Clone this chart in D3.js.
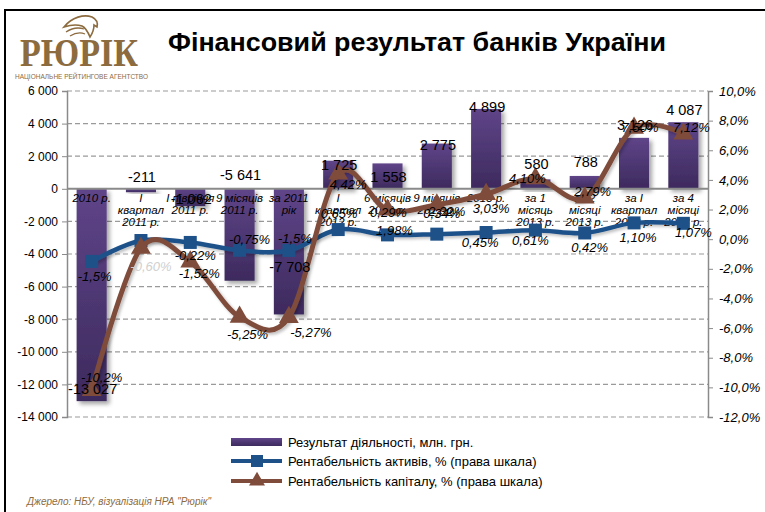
<!DOCTYPE html>
<html>
<head>
<meta charset="utf-8">
<script src="https://cdn.jsdelivr.net/npm/d3@7"></script>
<style>
  body { margin: 0; background: #fff; }
  svg { display: block; font-family: "Liberation Sans", Arial, sans-serif; }
</style>
</head>
<body>
<div id="mydraw"></div>
<script>

// ---------------
// data

var categories = [
    "2010 р.", "I\nквартал\n2011 р.", "I півріччя\n2011 р.", "9 місяців\n2011 р.",
    "за 2011\nрік", "I\nквартал\n2012 р.", "6 місяців\n2012 р.", "9 місяців\n2012 р.",
    "2013 р.", "за 1\nмісяць\n2013 р.", "за 2\nмісяці\n2013 р.", "за I\nквартал\n2013 р.",
    "за 4\nмісяці\n2013 р."
];

var result = [-13027, -211, -1062, -5641, -7708, 1725, 1558, 2775, 4899, 580, 788, 3126, 4087];

var roa = [-1.5, -0.09, -0.22, -0.75, -0.76, 0.65, 0.29, 0.34, 0.45, 0.61, 0.42, 1.10, 1.07];
var roaText = ["-1,5%", "", "-0,22%", "-0,75%", "-1,5%", "0,65%", "0,29%", "0,34%",
               "0,45%", "0,61%", "0,42%", "1,10%", "1,07%"];

var roe = [-10.2, -0.60, -1.52, -5.25, -5.27, 4.42, 1.98, 2.32, 3.03, 4.10, 2.79, 7.50, 7.12];
var roeText = ["-10,2%", "-0,60%", "-1,52%", "-5,25%", "-5,27%", "4,42%", "1,98%", "2,32%",
               "3,03%", "4,10%", "2,79%", "7,50%", "7,12%"];

var leftTicks  = [6000, 4000, 2000, 0, -2000, -4000, -6000, -8000, -10000, -12000, -14000];
var rightTicks = [10, 8, 6, 4, 2, 0, -2, -4, -6, -8, -10, -12];

var legendNames = [
    "Результат діяльності, млн. грн.",
    "Рентабельність активів, % (права шкала)",
    "Рентабельність капіталу, % (права шкала)"
];

// ---------------
// label nudges (layout only, px)

var barLabelDy = [-12, -15, -7, -106, -48, 4, 14, 1, -2, -15, -14, -13, -12];
var roaLabelDx = [3, 0, 5, 10, 6, 1, 1, 5, -6, -5, 5, 4, 10];
var roaLabelDy = [15, 0, 13, -11, -12, -16, -22, -21, 10, 10, 14, 15, 9];
var roeLabelDx = [10, 10, 9, 8, 22, 10, 7, 10, 5, -8, 8, 6, 8];
var roeLabelDy = [-13, 18, 12, 17, 15, 11, 21, 7, 14, 0, -6, -1, -6];


var W = 765, H = 512;
var pLeft = 67, pRight = 708, pTop = 91, pBottom = 417;

var blue  = "#1f5189",
    brown = "#7f4b3b",
    gold  = "#8c6b3f";

var loc = d3.formatLocale({ decimal: ",", thousands: "\u00a0", grouping: [3], currency: ["", ""], minus: "-" });
var fmtL = loc.format(",.0f"),
    fmtR = loc.format(".1f");

var svg = d3.select("div#mydraw").append("svg")
    .attr("width", W)
    .attr("height", H);

var defs = svg.append("defs");

var grad = defs.append("linearGradient")
    .attr("id", "barGrad")
    .attr("x1", 0).attr("y1", 0).attr("x2", 0).attr("y2", 1);
grad.append("stop").attr("offset", "0%").attr("stop-color", "#5f4589");
grad.append("stop").attr("offset", "100%").attr("stop-color", "#3d2a5d");

var shadow = defs.append("filter").attr("id", "shadow")
    .attr("x", "-20%").attr("y", "-20%").attr("width", "150%").attr("height", "150%");
shadow.append("feDropShadow")
    .attr("dx", 3).attr("dy", 3).attr("stdDeviation", 2)
    .attr("flood-color", "#000").attr("flood-opacity", 0.35);

var lshadow = defs.append("filter").attr("id", "lshadow")
    .attr("x", "-10%").attr("y", "-10%").attr("width", "130%").attr("height", "130%");
lshadow.append("feDropShadow")
    .attr("dx", 2).attr("dy", 2).attr("stdDeviation", 1.5)
    .attr("flood-color", "#000").attr("flood-opacity", 0.25);

// ---------------
// frame, logo, title

svg.append("rect")
    .attr("x", 5).attr("y", 10)
    .attr("width", 820).attr("height", 600)
    .attr("fill", "none")
    .attr("stroke", "#000")
    .attr("stroke-width", 2);

var logo = svg.append("g");
logo.append("text")
    .attr("x", 79).attr("y", 66)
    .attr("text-anchor", "middle")
    .attr("font-family", "'Liberation Serif', 'DejaVu Serif', serif")
    .attr("font-size", 40)
    .attr("font-weight", "bold")
    .attr("textLength", 118)
    .attr("lengthAdjust", "spacingAndGlyphs")
    .attr("fill", gold)
    .text("РЮРІК");
logo.append("text")
    .attr("x", 15).attr("y", 79)
    .attr("font-size", 7.5)
    .attr("textLength", 133)
    .attr("lengthAdjust", "spacingAndGlyphs")
    .attr("fill", gold)
    .text("НАЦІОНАЛЬНЕ РЕЙТИНГОВЕ АГЕНТСТВО");
// bird head
logo.append("path")
    .attr("d", "M64,27 C72,17 84,14 92,17 C96,19 98,23 97,27 L94,25 C94,30 92,34 90,37 " +
               "C88,32 86,28 82,26 C76,24 70,25 64,27 Z")
    .attr("fill", "none").attr("stroke", gold).attr("stroke-width", 1.6);
logo.append("path")
    .attr("d", "M66,32 C72,28 78,27 84,29 M70,36 C75,33 80,32 85,34")
    .attr("fill", "none").attr("stroke", gold).attr("stroke-width", 1.3);

svg.append("text")
    .attr("x", 168).attr("y", 51)
    .attr("font-size", 25)
    .attr("font-weight", "bold")
    .attr("textLength", 498)
    .attr("lengthAdjust", "spacingAndGlyphs")
    .attr("fill", "#000")
    .text("Фінансовий результат банків України");

// ---------------
// scales

var x = d3.scaleBand()
    .domain(d3.range(categories.length))
    .range([pLeft, pRight])
    .paddingInner(0.39)
    .paddingOuter(0.195);

var yL = d3.scaleLinear().domain([-14000, 6000]).range([pBottom, pTop]);
var yR = d3.scaleLinear().domain([-12, 10]).range([pBottom, pTop]);

var cx = function(i) { return x(i) + x.bandwidth() / 2; };

// ---------------
// grid

svg.append("g").selectAll("line")
    .data(leftTicks.filter(function(d) { return d !== 0; }))
    .enter().append("line")
    .attr("x1", pLeft).attr("x2", pRight)
    .attr("y1", function(d) { return yL(d); })
    .attr("y2", function(d) { return yL(d); })
    .attr("stroke", "#9a9a9a")
    .attr("stroke-width", 1.2)
    .attr("stroke-dasharray", "5,3");

// ---------------
// axes

var axL = svg.append("g")
    .attr("transform", "translate(" + pLeft + ",0)")
    .call(d3.axisLeft(yL).tickValues(leftTicks).tickSize(5).tickPadding(4).tickFormat(fmtL));
axL.select(".domain").attr("stroke", "#8a8a8a").attr("stroke-width", 1.5);
axL.selectAll(".tick line").attr("stroke", "#8a8a8a");
axL.selectAll("text").attr("font-size", 12).attr("fill", "#000")
    .attr("font-family", "'Liberation Sans', Arial, sans-serif");

var axR = svg.append("g")
    .attr("transform", "translate(" + pRight + ",0)")
    .call(d3.axisRight(yR).tickValues(rightTicks).tickSize(5).tickPadding(6)
        .tickFormat(function(d) { return fmtR(d) + "%"; }));
axR.select(".domain").attr("stroke", "#8a8a8a").attr("stroke-width", 1.5);
axR.selectAll(".tick line").attr("stroke", "#8a8a8a");
axR.selectAll("text").attr("font-size", 13).attr("font-style", "italic").attr("fill", "#000")
    .attr("font-family", "'Liberation Sans', Arial, sans-serif");

// ---------------
// bars

svg.append("g").selectAll("rect")
    .data(result)
    .enter().append("rect")
    .attr("x", function(d, i) { return x(i); })
    .attr("width", x.bandwidth())
    .attr("y", function(d) { return Math.min(yL(d), yL(0)); })
    .attr("height", function(d) { return Math.abs(yL(d) - yL(0)); })
    .attr("fill", "url(#barGrad)")
    .attr("filter", "url(#shadow)");

// zero line
svg.append("line")
    .attr("x1", pLeft).attr("x2", pRight)
    .attr("y1", yL(0)).attr("y2", yL(0))
    .attr("stroke", "#8a8a8a")
    .attr("stroke-width", 2);

// ---------------
// category labels

var cat = svg.append("g").selectAll("text")
    .data(categories)
    .enter().append("text")
    .attr("x", function(d, i) { return cx(i); })
    .attr("y", yL(0) + 13)
    .attr("text-anchor", "middle")
    .attr("font-size", 11.5)
    .attr("font-style", "italic")
    .attr("fill", "#000");

cat.each(function(d) {
    var t = d3.select(this);
    d.split("\n").forEach(function(line, k) {
        t.append("tspan")
            .attr("x", t.attr("x"))
            .attr("dy", k === 0 ? 0 : 12)
            .text(line);
    });
});

// ---------------
// lines (excel-like smoothing)

var line = function(ys) {
    return d3.line()
        .x(function(d, i) { return cx(i); })
        .y(function(d) { return ys(d); })
        .curve(d3.curveCatmullRom.alpha(0));
};

svg.append("path")
    .datum(roa)
    .attr("d", line(yR))
    .attr("fill", "none")
    .attr("stroke", blue)
    .attr("stroke-width", 4.5)
    .attr("filter", "url(#lshadow)");

svg.append("g").selectAll("rect")
    .data(roa)
    .enter().append("rect")
    .attr("x", function(d, i) { return cx(i) - 6.5; })
    .attr("y", function(d) { return yR(d) - 6.5; })
    .attr("width", 13).attr("height", 13)
    .attr("fill", blue);

svg.append("path")
    .datum(roe)
    .attr("d", line(yR))
    .attr("fill", "none")
    .attr("stroke", brown)
    .attr("stroke-width", 5)
    .attr("filter", "url(#lshadow)");

var tri = d3.symbol().type(d3.symbolTriangle).size(170);
svg.append("g").selectAll("path")
    .data(roe)
    .enter().append("path")
    .attr("d", tri)
    .attr("transform", function(d, i) { return "translate(" + cx(i) + "," + yR(d) + ")"; })
    .attr("fill", brown);

// ---------------
// data labels

svg.append("g").selectAll("text")
    .data(result)
    .enter().append("text")
    .attr("x", function(d, i) { return cx(i) + 1; })
    .attr("y", function(d, i) { return yL(d) + barLabelDy[i]; })
    .attr("dy", "0.35em")
    .attr("text-anchor", "middle")
    .attr("font-size", 14.5)
    .attr("fill", "#000")
    .text(function(d) { return fmtL(d); });

svg.append("g").selectAll("text")
    .data(roa)
    .enter().append("text")
    .attr("x", function(d, i) { return cx(i) + roaLabelDx[i]; })
    .attr("y", function(d, i) { return yR(d) + roaLabelDy[i]; })
    .attr("dy", "0.35em")
    .attr("text-anchor", "middle")
    .attr("font-size", 13)
    .attr("font-style", "italic")
    .attr("fill", "#000")
    .text(function(d, i) { return roaText[i]; });

svg.append("g").selectAll("text")
    .data(roe)
    .enter().append("text")
    .attr("x", function(d, i) { return cx(i) + roeLabelDx[i]; })
    .attr("y", function(d, i) { return yR(d) + roeLabelDy[i]; })
    .attr("dy", "0.35em")
    .attr("text-anchor", "middle")
    .attr("font-size", 13)
    .attr("font-style", "italic")
    .attr("fill", function(d, i) { return i === 1 ? "#d0d0d0" : "#000"; })
    .text(function(d, i) { return roeText[i]; });

// ---------------
// legend

var lg = svg.append("g").attr("transform", "translate(231,0)");
var rowY = [442, 461, 481];

lg.append("rect")
    .attr("x", 0).attr("y", rowY[0] - 4)
    .attr("width", 51).attr("height", 8)
    .attr("fill", "url(#barGrad)");

lg.append("line")
    .attr("x1", 0).attr("x2", 51).attr("y1", rowY[1]).attr("y2", rowY[1])
    .attr("stroke", blue).attr("stroke-width", 4);
lg.append("rect")
    .attr("x", 20).attr("y", rowY[1] - 6).attr("width", 12).attr("height", 12)
    .attr("fill", blue);

lg.append("line")
    .attr("x1", 0).attr("x2", 51).attr("y1", rowY[2]).attr("y2", rowY[2])
    .attr("stroke", brown).attr("stroke-width", 4);
lg.append("path")
    .attr("d", d3.symbol().type(d3.symbolTriangle).size(110))
    .attr("transform", "translate(26," + rowY[2] + ")")
    .attr("fill", brown);

lg.selectAll("text.lg")
    .data(legendNames)
    .enter().append("text")
    .attr("class", "lg")
    .attr("x", 57)
    .attr("y", function(d, i) { return rowY[i]; })
    .attr("dy", "0.35em")
    .attr("font-size", 13)
    .attr("fill", "#000")
    .text(function(d) { return d; });

// source
svg.append("text")
    .attr("x", 27).attr("y", 505)
    .attr("font-size", 10)
    .attr("font-style", "italic")
    .attr("fill", gold)
    .text("Джерело: НБУ, візуалізація НРА \"Рюрік\"");

</script>
</body>
</html>
